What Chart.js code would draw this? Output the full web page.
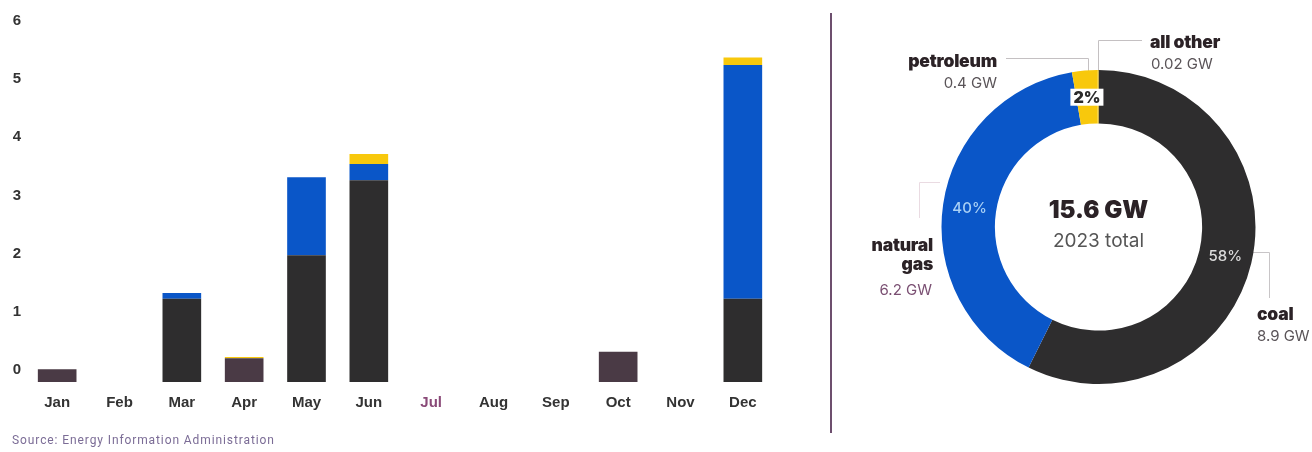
<!DOCTYPE html>
<html>
<head>
<meta charset="utf-8">
<script src="https://cdn.jsdelivr.net/npm/chart.js@4/dist/chart.umd.min.js"></script>
<style>
  html, body { margin: 0; padding: 0; background: #fff; }
  #wrap { position: relative; width: 1312px; height: 452px; overflow: hidden; background: #fff; }
  canvas { position: absolute; }
  .lbl { position: absolute; white-space: nowrap; line-height: 1; }
  .hv { font-family: Inter, "DejaVu Sans", sans-serif; font-weight: 900; font-size: 17.5px; color: #2b2226; letter-spacing: -0.2px; }
  .gw { font-family: Inter, "Noto Sans", sans-serif; font-size: 15px; color: #5a5458; }
  .right { text-align: right; }
  #sep { position: absolute; left: 830px; top: 13px; width: 2px; height: 420px; background: #6d4f6e; }
  .src { position: absolute; left: 12px; top: 433px; font-family: Roboto, "Liberation Sans", sans-serif; font-size: 12px; letter-spacing: 0.9px; color: #7b6c96; }
</style>
</head>
<body>
<div id="wrap">
  <canvas id="bars" width="800" height="452" style="left:0;top:0"></canvas>
  <div id="sep"></div>
  <svg width="1312" height="452" style="position:absolute;left:0;top:0" fill="none" stroke-width="1">
    <!-- leader lines for the ring annotations -->
    <polyline points="1006,58.5 1088.5,58.5 1088.5,71" stroke="#c4c0c2"/>
    <polyline points="1142,40.5 1098.5,40.5 1098.5,71" stroke="#c4c0c2"/>
    <polyline points="940,182.5 919.5,182.5 919.5,218" stroke="#eadbe2"/>
    <polyline points="1247,252.5 1269.5,252.5 1269.5,298" stroke="#c8c5c7"/>
  </svg>
  <canvas id="ring" width="315" height="314" style="left:941px;top:70px"></canvas>

  <div class="lbl hv right" style="right:315px;top:52px">petroleum</div>
  <div class="lbl gw right" style="right:315px;top:74.5px">0.4 GW</div>

  <div class="lbl hv" style="left:1150px;top:33px">all other</div>
  <div class="lbl gw" style="left:1151px;top:55.5px">0.02 GW</div>

  <div class="lbl hv right" style="right:379px;top:236px">natural</div>
  <div class="lbl hv right" style="right:379px;top:255px">gas</div>
  <div class="lbl gw right" style="right:380px;top:281.5px;color:#7a4f72">6.2 GW</div>

  <div class="lbl hv" style="left:1257px;top:305px">coal</div>
  <div class="lbl gw" style="left:1257px;top:327.5px">8.9 GW</div>

  <div class="src">Source: Energy Information Administration</div>
</div>
<script>
// Monthly capacity (GW) by fuel, stacked bottom to top
const months = ['Jan', 'Feb', 'Mar', 'Apr', 'May', 'Jun', 'Jul', 'Aug', 'Sep', 'Oct', 'Nov', 'Dec'];
const coal       = [0.22, 0, 1.43, 0.41, 2.18, 3.47, 0, 0, 0, 0.52, 0, 1.43];
const naturalGas = [0, 0, 0.10, 0, 1.34, 0.28, 0, 0, 0, 0, 0, 4.02];
const petroleum  = [0, 0, 0, 0, 0, 0.17, 0, 0, 0, 0, 0, 0.13];
const allOther   = [0, 0, 0, 0.02, 0, 0, 0, 0, 0, 0, 0, 0];
const yTicks = [0, 1, 2, 3, 4, 5, 6];

// Annual totals for the ring
const ringLabels = ['coal', 'natural gas', 'petroleum', 'all other'];
const ringValues = [8.9, 6.2, 0.4, 0.02];
const ringPct    = ['58%', '40%', '2%', ''];
const totalLabel = '15.6 GW';
const totalSub   = '2023 total';

const COAL = '#2e2d2e';
const COAL_ALT = '#4a3a45';
const GAS = '#0a56c8';
const YELLOW = '#f8c80c';

const altMonths = ['Jan', 'Apr', 'Oct'];
const coalColors = months.map(m => altMonths.includes(m) ? COAL_ALT : COAL);

const axisFont = { family: '"Liberation Sans", Arial, sans-serif', size: 15, weight: 'bold' };

new Chart(document.getElementById('bars'), {
  type: 'bar',
  data: {
    labels: months,
    datasets: [
      { label: 'coal', data: coal, backgroundColor: coalColors },
      { label: 'natural gas', data: naturalGas, backgroundColor: GAS },
      { label: 'petroleum', data: petroleum, backgroundColor: YELLOW },
      { label: 'all other', data: allOther, backgroundColor: YELLOW }
    ]
  },
  options: {
    responsive: false,
    animation: false,
    layout: { padding: { top: 33, right: 26, bottom: 0, left: 0 } },
    datasets: { bar: { barPercentage: 0.62, categoryPercentage: 1, borderWidth: 0 } },
    plugins: { legend: { display: false }, tooltip: { enabled: false } },
    scales: {
      x: {
        stacked: true,
        grid: { display: false, drawTicks: false },
        border: { display: false },
        ticks: {
          padding: 12,
          font: axisFont,
          color: ctx => months[ctx.index] === 'Jul' ? '#8a4a78' : '#333'
        },
        afterFit: s => { s.height = 70; }
      },
      y: {
        stacked: true,
        min: yTicks[0],
        max: yTicks[yTicks.length - 1],
        grid: { display: false, drawTicks: false },
        border: { display: false },
        ticks: {
          stepSize: 1,
          padding: 5,
          labelOffset: -12,
          font: axisFont,
          color: '#333'
        },
        afterFit: s => { s.width = 26; }
      }
    }
  }
});

// Percent labels on the ring arcs and the total in the middle
const ringText = {
  id: 'ringText',
  afterDatasetsDraw(chart) {
    const ctx = chart.ctx;
    const arcs = chart.getDatasetMeta(0).data;
    ctx.save();
    ctx.textAlign = 'center';
    ctx.textBaseline = 'middle';
    arcs.forEach((arc, i) => {
      const txt = ringPct[i];
      if (!txt) return;
      const p = arc.tooltipPosition();
      if (i === 2) {
        ctx.font = '900 16px Inter, "DejaVu Sans", sans-serif';
        const w = ctx.measureText(txt).width + 6;
        ctx.fillStyle = '#fff';
        ctx.fillRect(p.x - w / 2, p.y - 8.5, w, 17);
        ctx.fillStyle = '#2b2b2b';
        ctx.fillText(txt, p.x, p.y + 0.5);
      } else {
        ctx.font = '500 15px Inter, "Noto Sans", sans-serif';
        ctx.fillStyle = i === 1 ? '#a9d0f5' : '#dcdcdc';
        ctx.fillText(txt, p.x, p.y);
      }
    });
    const c = arcs[0];
    ctx.fillStyle = '#2b2226';
    ctx.font = '900 24px Inter, "DejaVu Sans", sans-serif';
    ctx.fillText(totalLabel, c.x, c.y - 16);
    ctx.fillStyle = '#555';
    ctx.font = '400 19px Inter, "Noto Sans", sans-serif';
    ctx.fillText(totalSub, c.x, c.y + 14);
    ctx.restore();
  }
};

new Chart(document.getElementById('ring'), {
  type: 'doughnut',
  data: {
    labels: ringLabels,
    datasets: [{
      data: ringValues,
      backgroundColor: [COAL, GAS, YELLOW, YELLOW],
      borderWidth: 0
    }]
  },
  options: {
    responsive: false,
    animation: false,
    cutout: '66%',
    layout: { padding: 0 },
    plugins: { legend: { display: false }, tooltip: { enabled: false } }
  },
  plugins: [ringText]
});
</script>
</body>
</html>
